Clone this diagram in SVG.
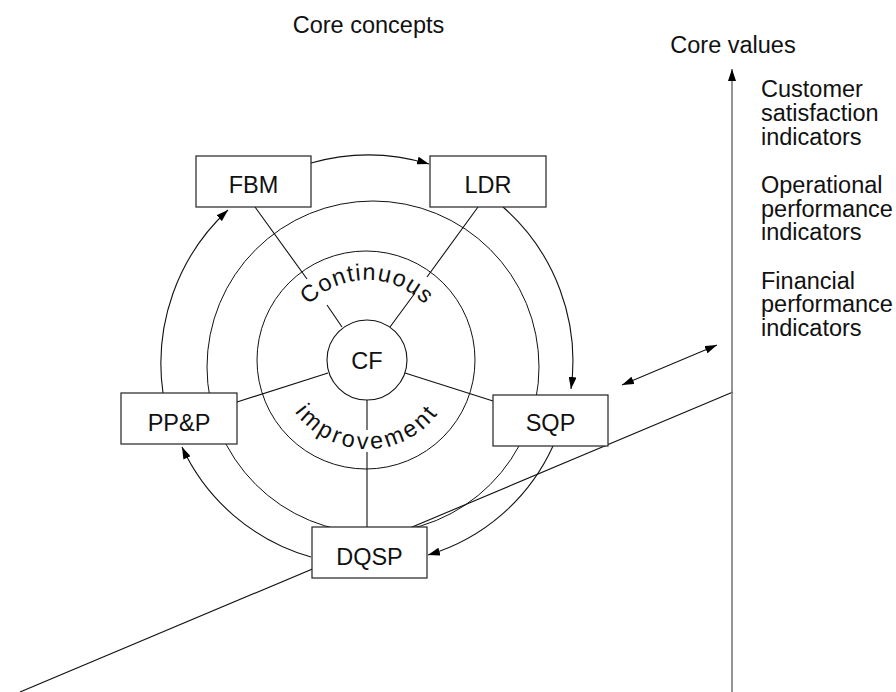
<svg xmlns="http://www.w3.org/2000/svg" width="896" height="692" viewBox="0 0 896 692">
<style>
text{font-family:"Liberation Sans",Arial,sans-serif;font-size:23.5px;fill:#111}
.c{text-anchor:middle}
.box{fill:#fff;stroke:#222;stroke-width:1.2}
.ln{fill:none;stroke:#111;stroke-width:1.1}
.arc{fill:none;stroke:#111;stroke-width:1.1;marker-end:url(#ah)}
.ring{fill:none;stroke:#111;stroke-width:1}
</style>
<defs>
<marker id="ah" markerUnits="userSpaceOnUse" markerWidth="12" markerHeight="8" refX="12" refY="4" orient="auto-start-reverse" viewBox="0 0 12 8">
<path d="M0,0 L12,4 L0,8 z" fill="#000"/>
</marker>
<path id="pCont" d="M287,360 A80,80 0 0 1 447,360"/>
<path id="pImp" d="M278,360 A89,89 0 0 0 456,360"/>
</defs>
<g id="titles">
<text class="c" x="368.5" y="33">Core concepts</text>
<text class="c" x="733" y="53">Core values</text>
</g>
<g id="indicators">
<text x="761" y="97">Customer</text>
<text x="761" y="121">satisfaction</text>
<text x="761" y="145">indicators</text>
<text x="761" y="193">Operational</text>
<text x="761" y="216.5">performance</text>
<text x="761" y="240">indicators</text>
<text x="761" y="288.5">Financial</text>
<text x="761" y="312">performance</text>
<text x="761" y="335.5">indicators</text>
</g>
<g id="rings">
<circle class="ring" cx="373" cy="367" r="166"/>
<circle class="ring" cx="366" cy="360" r="109"/>
</g>
<g id="connectors">
<path class="ln" d="M20,692 L733,392"/>
<path d="M732,692 L732,69" fill="none" stroke="#7a7a7a" stroke-width="1.6" marker-end="url(#ah)"/>
<path class="ln" d="M622,385 L717,345" marker-start="url(#ah)" marker-end="url(#ah)"/>
<path class="ln" d="M255,207 L307,279 M327,305 L342,327"/>
<path class="ln" d="M478,207 L427,277 M415,293 L390,327"/>
<path class="ln" d="M237,402 L328,373"/>
<path class="ln" d="M405,373 L493,401"/>
<path class="ln" d="M367,400 L367,430 M367,452 L367,527"/>
<path class="arc" d="M311,163 A210,210 0 0 1 429,164"/>
<path class="arc" d="M503,207 A205,205 0 0 1 571,389"/>
<path class="arc" d="M553,446 A200,200 0 0 1 428,555"/>
<path class="arc" d="M311,557 A203,203 0 0 1 182,447"/>
<path class="arc" d="M163,393 A209,209 0 0 1 228,210"/>
</g>
<g id="ring-labels">
<text letter-spacing="1.2"><textPath href="#pCont" startOffset="50%" text-anchor="middle">Continuous</textPath></text>
<text letter-spacing="3"><textPath href="#pImp" startOffset="50%" text-anchor="middle">improvement</textPath></text>
</g>
<g id="CF">
<circle cx="367" cy="360" r="40" fill="#fff" stroke="#111" stroke-width="1.1"/>
<text class="c" x="367" y="368.5">CF</text>
</g>
<g id="FBM">
<rect class="box" x="196" y="156" width="115" height="51"/>
<text class="c" x="253.5" y="193">FBM</text>
</g>
<g id="LDR">
<rect class="box" x="430" y="156" width="116" height="51"/>
<text class="c" x="488" y="193">LDR</text>
</g>
<g id="PPP">
<rect class="box" x="121" y="393" width="116" height="51"/>
<text class="c" x="179" y="431">PP&amp;P</text>
</g>
<g id="SQP">
<rect class="box" x="493" y="395" width="115" height="51"/>
<text class="c" x="550.5" y="431">SQP</text>
</g>
<g id="DQSP">
<rect class="box" x="312" y="527" width="115" height="51"/>
<text class="c" x="369.5" y="565">DQSP</text>
</g>
</svg>
